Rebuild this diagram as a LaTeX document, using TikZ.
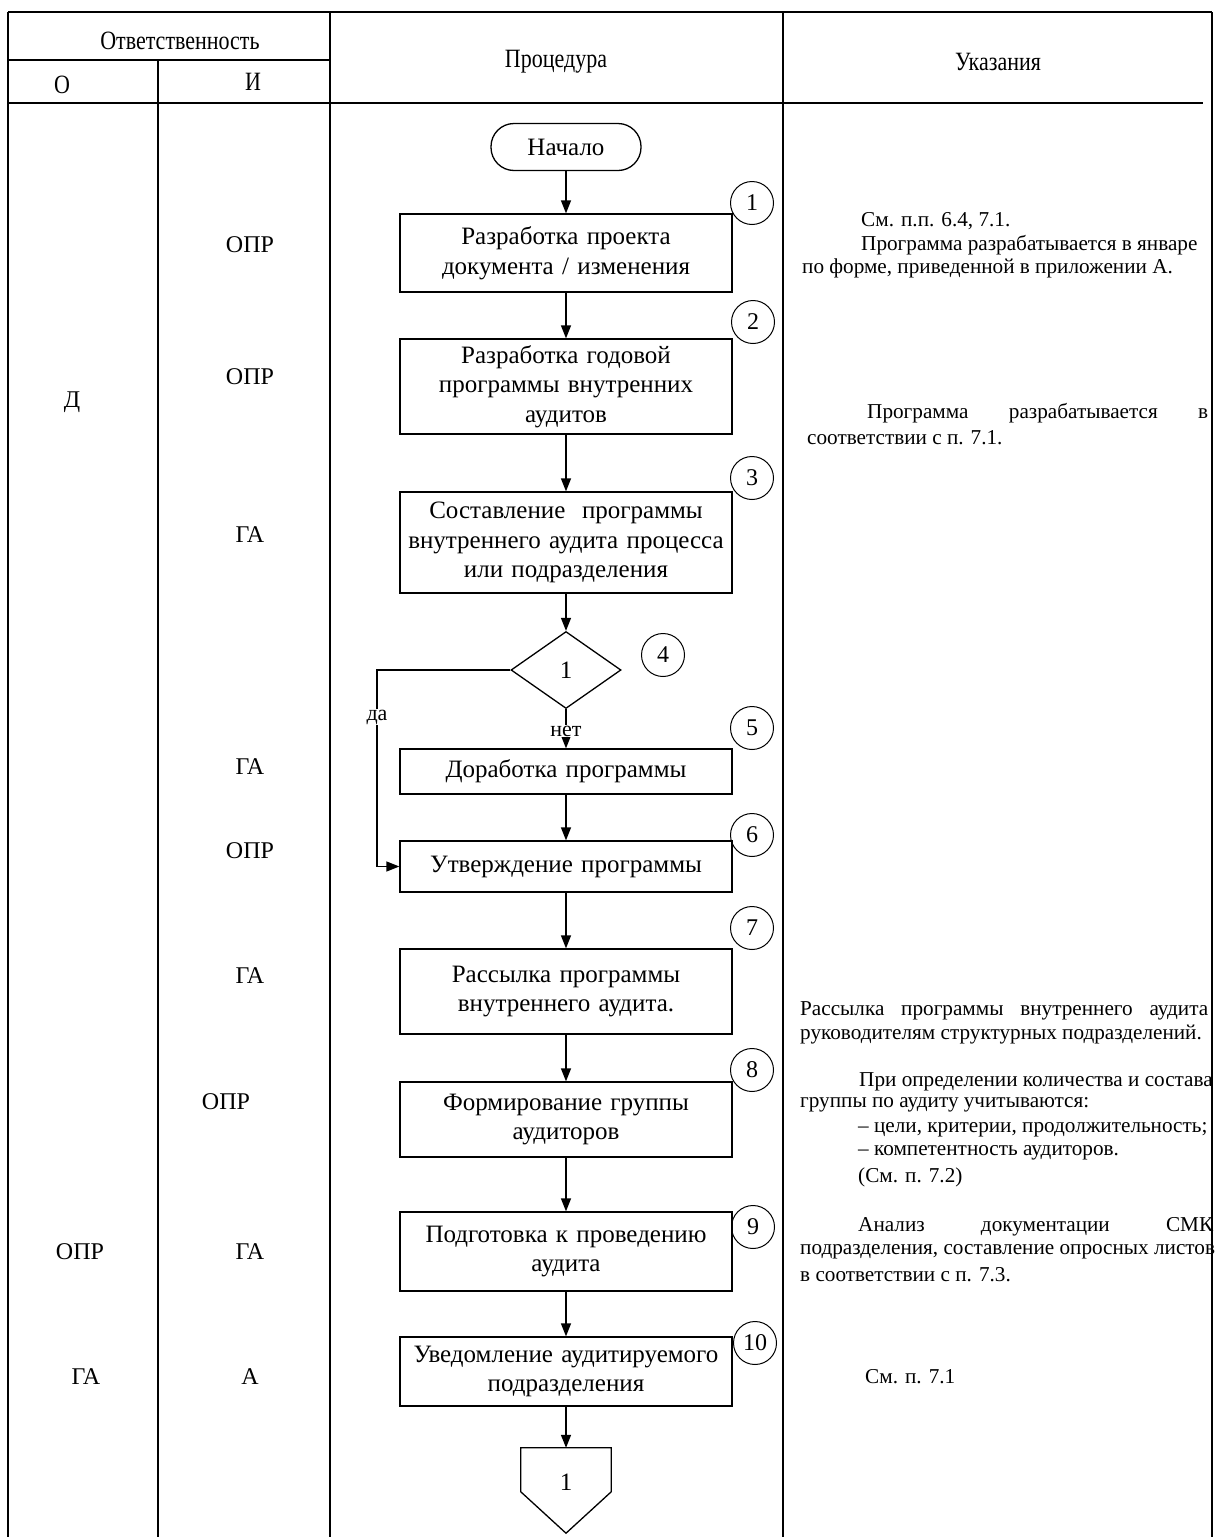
\documentclass[tikz,border=0pt]{standalone}
\usepackage{fontspec}
\setmainfont{Liberation Serif}
\usetikzlibrary{arrows.meta,shapes.geometric,calc}
\begin{document}
\begin{tikzpicture}[x=1pt,y=-1pt,
  grid/.style={line width=1.4pt},
  proc/.style={draw, line width=1.3pt, rectangle, minimum width=332pt, inner sep=0pt, align=center, text width=330pt, font=\fontsize{25}{29.5}\selectfont},
  term/.style={draw, line width=1.3pt, rectangle, rounded corners=23pt, minimum width=150pt, minimum height=47pt, inner sep=0pt, font=\fontsize{25}{29.5}\selectfont},
  num/.style={draw, line width=1pt, circle, minimum size=43pt, inner sep=0pt, font=\fontsize{24}{24}\selectfont},
  dec/.style={draw, line width=1.3pt, diamond, minimum width=110pt, minimum height=77pt, inner sep=0pt, font=\fontsize{25}{25}\selectfont},
  arr/.style={line width=1.3pt, -{Triangle[length=13pt,width=10pt]}},
  lab/.style={font=\fontsize{22}{22}\selectfont, fill=white, inner sep=1pt},
  resp/.style={font=\fontsize{24}{24}\selectfont},
  head/.style={font=\fontsize{22}{22}\selectfont},
  note/.style={anchor=west, inner sep=0pt, font=\fontsize{21.2}{23}\selectfont}
]
\useasboundingbox (0,0) rectangle (1227,1537);
% table
\draw[grid] (8,12) -- (1212,12);
\draw[grid] (8,12) -- (8,1537);
\draw[grid] (158,60) -- (158,1537);
\draw[grid] (330,12) -- (330,1537);
\draw[grid] (783,12) -- (783,1537);
\draw[grid] (1212,12) -- (1212,1537);
\draw[grid] (8,60) -- (330,60);
\draw[grid] (8,103) -- (1203,103);
% headers
\node[head] (h1) at (180,41) {\scalebox{1}[1.2]{Ответственность}};
\node[head] (h2) at (62,85) {\scalebox{1}[1.2]{О}};
\node[head] (h3) at (253,82) {\scalebox{1}[1.2]{И}};
\node[head] (h4) at (556,62) {\scalebox{1}[1.2]{Процедура}};
\node[head] (h5) at (998,62) {\scalebox{1}[1.2]{Указания}};
% responsibility
\node[resp] (r1) at (250,245) {ОПР};
\node[resp] (r2) at (250,377) {ОПР};
\node[resp] (r3) at (72,402) {Д};
\node[resp] (r4) at (250,535) {ГА};
\node[resp] (r5) at (250,767) {ГА};
\node[resp] (r6) at (250,851) {ОПР};
\node[resp] (r7) at (250,976) {ГА};
\node[resp] (r8) at (226,1102) {ОПР};
\node[resp] (r9) at (80,1252) {ОПР};
\node[resp] (r10) at (250,1252) {ГА};
\node[resp] (r11) at (86,1377) {ГА};
\node[resp] (r12) at (250,1377) {А};
% flowchart
\node[term] (start) at (566,147) {Начало};
\node[proc, minimum height=78pt] (b1) at (566,253) {Разработка проекта\\документа / изменения};
\node[proc, minimum height=95pt] (b2) at (566,386.5) {Разработка годовой\\программы внутренних\\аудитов};
\node[proc, minimum height=101pt] (b3) at (566,542.5) {Составление\ \ программы\\внутреннего аудита процесса\\или подразделения};
\node[dec] (d) at (566,670) {1};
\node[proc, minimum height=45pt] (b5) at (566,771.5) {Доработка программы};
\node[proc, minimum height=51pt] (b6) at (566,866.5) {Утверждение программы};
\node[proc, minimum height=85pt] (b7) at (566,991.5) {Рассылка программы\\внутреннего аудита.};
\node[proc, minimum height=75pt] (b8) at (566,1119.5) {Формирование группы\\аудиторов};
\node[proc, minimum height=79pt] (b9) at (566,1251.5) {Подготовка к проведению\\аудита};
\node[proc, minimum height=69pt] (b10) at (566,1371.5) {Уведомление аудитируемого\\подразделения};
\node[minimum width=90pt, minimum height=85pt, inner sep=0pt] (conn) at (566,1490.5) {};
\node[font=\fontsize{25}{25}\selectfont] (connlab) at (566,1482) {1};
\draw[line width=1.3pt] (conn.north west) -- (conn.north east) -- ++(0,44) -- (conn.south) -- ($(conn.north west)+(0,44)$) -- cycle;
% numbers
\node[num] (c1) at (752,203) {1};
\node[num] (c2) at (753,322) {2};
\node[num] (c3) at (752,478) {3};
\node[num] (c4) at (663,655) {4};
\node[num] (c5) at (752,728) {5};
\node[num] (c6) at (752,835) {6};
\node[num] (c7) at (752,928) {7};
\node[num] (c8) at (752,1070) {8};
\node[num] (c9) at (753,1227) {9};
\node[num] (c10) at (755,1343) {10};
% connectors
\draw[arr] (start) -- (b1);
\draw[arr] (b1) -- (b2);
\draw[arr] (b2) -- (b3);
\draw[arr] (b3) -- (d);
\draw[arr] (d.south) -- (b5.north) node[lab, pos=0.56] (no) {нет};
\coordinate (dk) at (377,670);
\draw[arr] (d.west) -- (dk) |- (b6.west);
\node[lab] (yes) at (377,717) {да};
\draw[arr] (b5) -- (b6);
\draw[arr] (b6) -- (b7);
\draw[arr] (b7) -- (b8);
\draw[arr] (b8) -- (b9);
\draw[arr] (b9) -- (b10);
\draw[arr] (b10) -- (conn.north);
% notes
\node[note] (n1) at (861,221) {См. п.п. 6.4, 7.1.};
\node[note] (n2) at (861,245) {Программа разрабатывается в январе};
\node[note] (n3) at (802,268) {по форме, приведенной в приложении А.};
\node[note] (n4) at (867,413) {\hbox to 341pt{Программа\hfill разрабатывается\hfill в}};
\node[note] (n5) at (807,438) {соответствии с п. 7.1.};
\node[note] (n6) at (800,1011) {\hbox to 408pt{Рассылка\hfill программы\hfill внутреннего\hfill аудита}};
\node[note] (n7) at (800,1035) {руководителям структурных подразделений.};
\node[note] (n8) at (859,1082) {При определении количества и состава};
\node[note] (n9) at (800,1105) {группы по аудиту учитываются:};
\node[note] (n10) at (858,1130) {– цели, критерии, продолжительность;};
\node[note] (n11) at (858,1153) {– компетентность аудиторов.};
\node[note] (n12) at (858,1177) {(См. п. 7.2)};
\node[note] (n13) at (858,1227) {\hbox to 355pt{Анализ\hfill документации\hfill СМК}};
\node[note] (n14) at (800,1252) {подразделения, составление опросных листов};
\node[note] (n15) at (800,1275) {в соответствии с п. 7.3.};
\node[note] (n16) at (865,1377) {См. п. 7.1};
\end{tikzpicture}
\end{document}
